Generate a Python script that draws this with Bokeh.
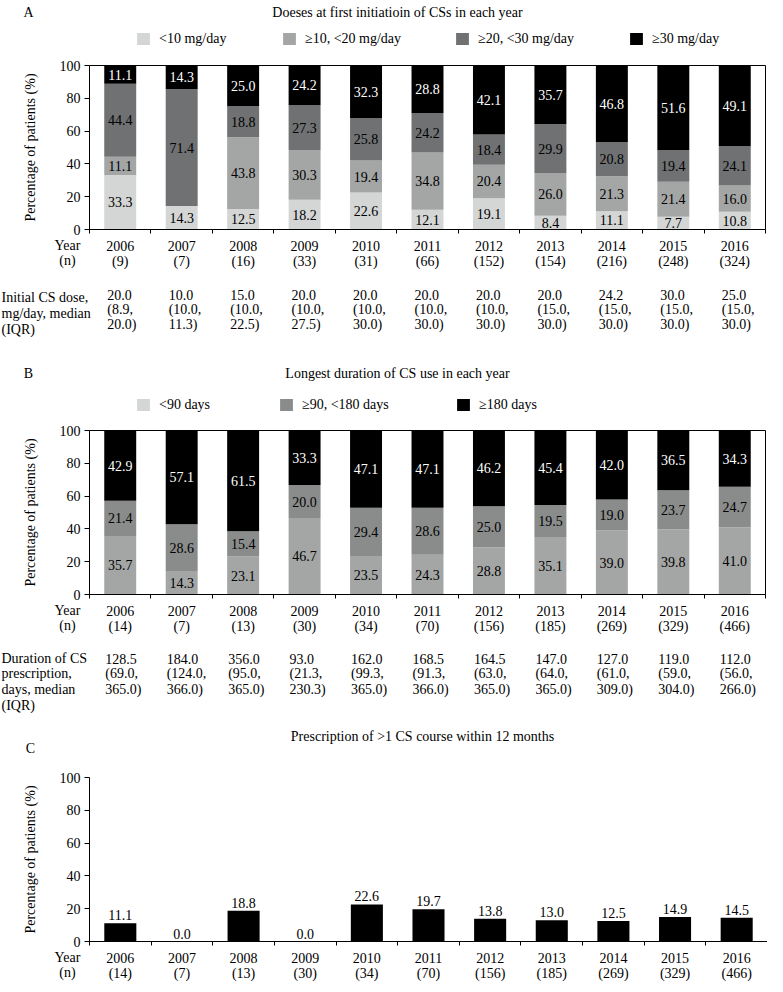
from bokeh.plotting import figure
from bokeh.models import (ColumnDataSource, LabelSet, Label, Legend, LegendItem,
                          LinearAxis, FixedTicker, Range1d, BoxAnnotation)
from bokeh.layouts import column
from bokeh.embed import file_html
from bokeh.resources import INLINE
from bokeh.core.properties import value

FONT = "Liberation Serif"

# ---------------- data ----------------
years = [2006, 2007, 2008, 2009, 2010, 2011, 2012, 2013, 2014, 2015, 2016]

# Panel A
n_a = [9, 7, 16, 33, 31, 66, 152, 154, 216, 248, 324]
dose_lt10 = [33.3, 14.3, 12.5, 18.2, 22.6, 12.1, 19.1, 8.4, 11.1, 7.7, 10.8]
dose_10_20 = [11.1, 0.0, 43.8, 30.3, 19.4, 34.8, 20.4, 26.0, 21.3, 21.4, 16.0]
dose_20_30 = [44.4, 71.4, 18.8, 27.3, 25.8, 24.2, 18.4, 29.9, 20.8, 19.4, 24.1]
dose_ge30 = [11.1, 14.3, 25.0, 24.2, 32.3, 28.8, 42.1, 35.7, 46.8, 51.6, 49.1]
dose_labels = ["<10 mg/day", "\u226510, <20 mg/day", "\u226520, <30 mg/day", "\u226530 mg/day"]
dose_median = [20.0, 10.0, 15.0, 20.0, 20.0, 20.0, 20.0, 20.0, 24.2, 30.0, 25.0]
dose_q1 = [8.9, 10.0, 10.0, 10.0, 10.0, 10.0, 10.0, 15.0, 15.0, 15.0, 15.0]
dose_q3 = [20.0, 11.3, 22.5, 27.5, 30.0, 30.0, 30.0, 30.0, 30.0, 30.0, 30.0]

# Panel B
n_b = [14, 7, 13, 30, 34, 70, 156, 185, 269, 329, 466]
dur_lt90 = [35.7, 14.3, 23.1, 46.7, 23.5, 24.3, 28.8, 35.1, 39.0, 39.8, 41.0]
dur_90_180 = [21.4, 28.6, 15.4, 20.0, 29.4, 28.6, 25.0, 19.5, 19.0, 23.7, 24.7]
dur_ge180 = [42.9, 57.1, 61.5, 33.3, 47.1, 47.1, 46.2, 45.4, 42.0, 36.5, 34.3]
dur_labels = ["<90 days", "\u226590, <180 days", "\u2265180 days"]
dur_median = [128.5, 184.0, 356.0, 93.0, 162.0, 168.5, 164.5, 147.0, 127.0, 119.0, 112.0]
dur_q1 = [69.0, 124.0, 95.0, 21.3, 99.3, 91.3, 63.0, 64.0, 61.0, 59.0, 56.0]
dur_q3 = [365.0, 366.0, 365.0, 230.3, 365.0, 366.0, 365.0, 365.0, 309.0, 304.0, 266.0]

# Panel C
n_c = [14, 7, 13, 30, 34, 70, 156, 185, 269, 329, 466]
multi_course = [11.1, 0.0, 18.8, 0.0, 22.6, 19.7, 13.8, 13.0, 12.5, 14.9, 14.5]

# ---------------- styling ----------------
A_COLORS = ["#d4d6d5", "#a4a6a5", "#6f7172", "#000000"]
B_BAR_COLORS = ["#a4a6a5", "#8a8c8b", "#000000"]
B_LEG_COLORS = ["#d4d6d5", "#8a8c8b", "#000000"]

FIG_W = 767
BOX_LEFT = 89      # px from figure's left edge to the plot box
BOX_H = 164


class Panel:
    def __init__(self, page_top, height, box_top, box_w, box=True):
        self.page_top = page_top
        self.h = height
        self.box_top = box_top  # page y of the 100 % line
        x0, x1 = years[0] - 0.5, years[-1] + 0.5
        u = (x1 - x0) / box_w
        s = 100.0 / BOX_H
        t = box_top - page_top
        bot = height - t - BOX_H
        self.bottom_page = box_top + BOX_H
        p = figure(width=FIG_W, height=height, min_border=0, min_border_left=0,
                   min_border_right=0, min_border_top=0, min_border_bottom=0,
                   x_range=Range1d(x0 - BOX_LEFT * u, x1 + (FIG_W - BOX_LEFT - box_w) * u),
                   y_range=Range1d(-bot * s, 100 + t * s),
                   x_axis_type=None, y_axis_type=None, output_backend="svg",
                   toolbar_location=None, background_fill_color="white",
                   border_fill_color="white")
        p.grid.visible = False
        p.outline_line_color = None
        if box:
            p.add_layout(BoxAnnotation(left=x0, right=x1, bottom=0, top=100,
                                       fill_alpha=0, line_color="black", line_width=1,
                                       line_alpha=1))
        self.p = p
        self.x0, self.x1 = x0, x1

    def txt(self, text, page_x, page_y, align="left", angle=0):
        self.p.add_layout(Label(x=page_x - 8, y=self.page_top + self.h - page_y,
                                x_units="screen", y_units="screen", text=text,
                                angle=angle, angle_units="deg",
                                text_align=align, text_baseline="middle", text_font=FONT,
                                text_font_size="14px", text_color="black"))

    def sy(self, page_y):
        return self.page_top + self.h - page_y

    def axes(self, ns):
        p = self.p
        ya = LinearAxis(ticker=FixedTicker(ticks=[0, 20, 40, 60, 80, 100]),
                        fixed_location=self.x0, bounds=(0, 100),
                        major_label_text_font=FONT, major_label_text_font_size="14px",
                        major_label_text_color="black", major_label_standoff=4,
                        major_tick_out=5, major_tick_in=0, minor_tick_out=0, minor_tick_in=0,
                        axis_line_color="black", major_tick_line_color="black")
        p.add_layout(ya, "left")
        bounds = [y - 0.5 for y in years] + [years[-1] + 0.5]
        xa = LinearAxis(ticker=FixedTicker(ticks=years, minor_ticks=bounds),
                        fixed_location=0, bounds=(self.x0, self.x1),
                        major_label_overrides={y: f"{y}\n({n})" for y, n in zip(years, ns)},
                        major_label_text_font=FONT, major_label_text_font_size="14px",
                        major_label_text_color="black", major_label_standoff=5,
                        major_label_text_line_height=1.05,
                        major_tick_out=0, major_tick_in=0, minor_tick_out=4, minor_tick_in=0,
                        axis_line_color="black", minor_tick_line_color="black")
        p.add_layout(xa, "below")
        b = self.bottom_page
        self.txt("Percentage of patients (%)", 38, self.box_top + BOX_H / 2, align="center", angle=90)
        self.txt("Year", 75, b + 16, align="center")
        self.txt("(n)", 75, b + 31, align="center")


def seg_labels(p, series, colors):
    xs, ys, ts, cs = [], [], [], []
    for i, yr in enumerate(years):
        bottom = 0.0
        for s, c in zip(series, colors):
            v = s[i]
            if v > 0:
                xs.append(yr)
                ys.append(bottom + v / 2.0)
                ts.append(f"{v:.1f}")
                cs.append("white" if c == "#000000" else "black")
            bottom += v
    src = ColumnDataSource(dict(x=xs, y=ys, t=ts, c=cs))
    p.add_layout(LabelSet(x="x", y="y", text="t", text_color="c", source=src,
                          text_align="center", text_baseline="middle",
                          text_font=value(FONT), text_font_size="14px"))


def table(pn, med, q1, q3, page_ys, xoff):
    src = ColumnDataSource(dict(year=years,
                                l1=[f"{v:.1f}" for v in med],
                                l2=[f"({v:.1f}," for v in q1],
                                l3=[f"{v:.1f})" for v in q3]))
    for col, yy in zip(["l1", "l2", "l3"], page_ys):
        pn.p.add_layout(LabelSet(x="year", y=pn.sy(yy), y_units="screen", text=col, source=src,
                                 text_align="left", text_baseline="middle", x_offset=xoff,
                                 text_font=value(FONT), text_font_size="14px",
                                 text_color="black"))


def legend(pn, labels, renderers, page_xs, page_y_center):
    for lab, r, px in zip(labels, renderers, page_xs):
        lg = Legend(items=[LegendItem(label=value(lab), renderers=[r])],
                    location=(px - 8, pn.sy(page_y_center + 8.5)), orientation="horizontal",
                    glyph_width=16, glyph_height=15, label_height=15,
                    label_standoff=8, label_text_font=FONT, label_text_font_size="14px",
                    label_text_color="black", padding=0, margin=0, border_line_color=None,
                    background_fill_alpha=0)
        pn.p.add_layout(lg, "center")


# ---------------- Panel A ----------------
A = Panel(0, 348, 65, 676)
src_a = ColumnDataSource(dict(year=years, a=dose_lt10, b=dose_10_20, c=dose_20_30, d=dose_ge30))
ra = A.p.vbar_stack(["a", "b", "c", "d"], x="year", width=0.52, fill_color=A_COLORS,
                    line_color=None, source=src_a)
seg_labels(A.p, [dose_lt10, dose_10_20, dose_20_30, dose_ge30], A_COLORS)
A.axes(n_a)
A.txt("A", 36, 12, align="center")
A.txt("Doeses at first initiatioin of CSs in each year", 405, 12, align="center")
legend(A, dose_labels, ra, [143, 289, 462, 636], 38)
table(A, dose_median, dose_q1, dose_q3, [294, 309, 324], -13)
A.txt("Initial CS dose,", 9, 297)
A.txt("mg/day, median", 9, 313)
A.txt("(IQR)", 9, 329)

# ---------------- Panel B ----------------
B = Panel(348, 366, 430, 676)
src_b = ColumnDataSource(dict(year=years, a=dur_lt90, b=dur_90_180, c=dur_ge180))
B.p.vbar_stack(["a", "b", "c"], x="year", width=0.52, fill_color=B_BAR_COLORS,
               line_color=None, source=src_b)
seg_labels(B.p, [dur_lt90, dur_90_180, dur_ge180], B_BAR_COLORS)
# legend-only swatches (zero-height bars in the legend colours)
leg_r = [B.p.vbar(x="year", top=0, bottom=0, width=0.5, fill_color=c, line_color=None,
                  source=src_b) for c in B_LEG_COLORS]
B.axes(n_b)
B.txt("B", 36, 373, align="center")
B.txt("Longest duration of CS use in each year", 405, 373, align="center")
legend(B, dur_labels, leg_r, [143, 286, 463], 404)
table(B, dur_median, dur_q1, dur_q3, [658, 673, 689], -15)
B.txt("Duration of CS", 9, 658)
B.txt("prescription,", 9, 673)
B.txt("days, median", 9, 689)
B.txt("(IQR)", 9, 705)

# ---------------- Panel C ----------------
C = Panel(714, 270, 777, 678, box=False)
src_c = ColumnDataSource(dict(year=years, v=multi_course, t=[f"{v:.1f}" for v in multi_course]))
C.p.vbar(x="year", top="v", width=0.52, fill_color="black", line_color=None, source=src_c)
C.p.add_layout(LabelSet(x="year", y="v", text="t", source=src_c, y_offset=3,
                        text_align="center", text_baseline="bottom",
                        text_font=value(FONT), text_font_size="14px", text_color="black"))
C.axes(n_c)
C.txt("C", 38, 748, align="center")
C.txt("Prescription of >1 CS course within 12 months", 430, 736, align="center")

layout = column(A.p, B.p, C.p, spacing=0)
open("out.html", "w").write(file_html(layout, INLINE))
